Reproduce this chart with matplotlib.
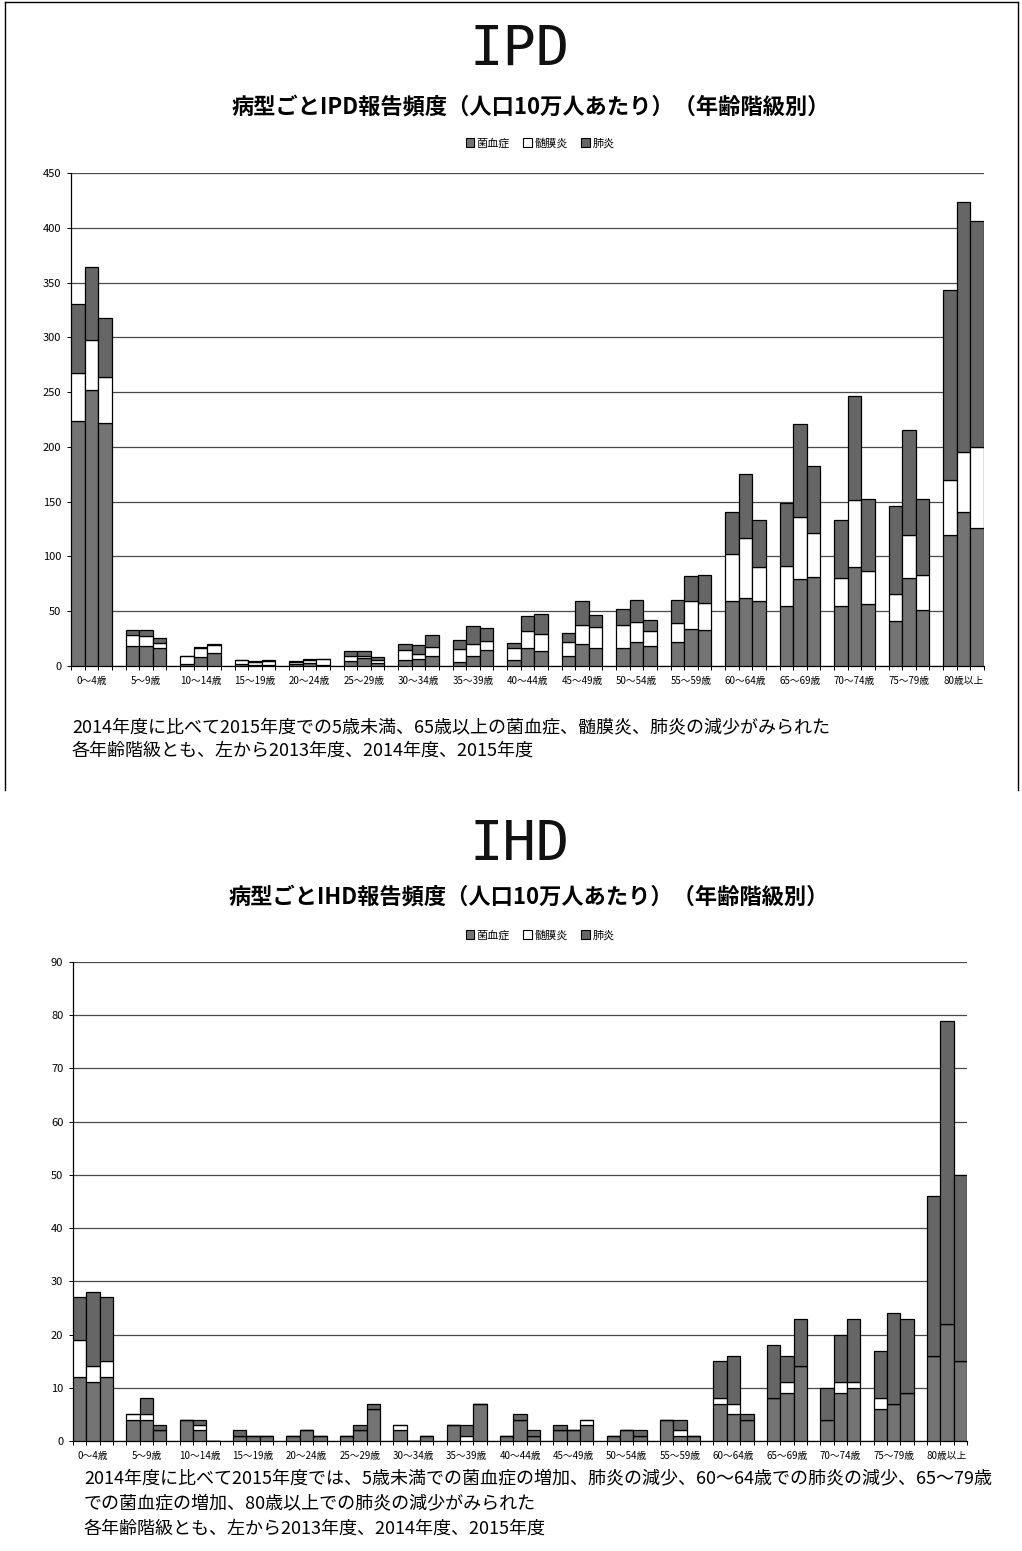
import numpy as np
import matplotlib
matplotlib.use("Agg")
import matplotlib.pyplot as plt
from matplotlib.patches import Patch
from matplotlib.lines import Line2D

plt.rcParams['font.family'] = ['Noto Sans CJK JP', 'DejaVu Sans']

# =============================
# Data
# =============================
age_groups = ["0～4歳", "5～9歳", "10～14歳", "15～19歳", "20～24歳", "25～29歳",
              "30～34歳", "35～39歳", "40～44歳", "45～49歳", "50～54歳", "55～59歳",
              "60～64歳", "65～69歳", "70～74歳", "75～79歳", "80歳以上"]
years = ["2013年度", "2014年度", "2015年度"]
disease_types = ["菌血症", "髄膜炎", "肺炎"]

# IPD, per 100k, segment values
ipd_bacteremia = [
    [224, 18.5, 2, 1.5, 2, 4.3, 5.2, 3.6, 5.8, 9.4, 16.7, 22.2, 59.3, 55.2, 54.6, 41, 119.4],
    [252, 18.5, 8.3, 1, 2.8, 7.1, 6.7, 8.8, 16.4, 20.4, 22.2, 34, 61.7, 79.3, 90.7, 80.2, 141],
    [222, 16, 12, 1, 1, 2.5, 8.8, 14.3, 13.4, 16.7, 18.2, 33, 59.3, 81.2, 56.2, 51.5, 125.6],
]
ipd_meningitis = [
    [43, 10.2, 7, 3.7, 2, 4.7, 9.7, 12.2, 10.9, 12.5, 21, 17.3, 43.2, 36.5, 25.4, 24.7, 50],
    [46, 8.5, 7.7, 2.7, 3.1, 2.2, 4.5, 11, 15.5, 17.3, 17.9, 25, 55.3, 57.1, 60.8, 39.8, 54.7],
    [42, 4.7, 7.4, 4, 5.2, 3.4, 8.5, 8.5, 15.5, 18.9, 13.7, 24.4, 31.4, 40.4, 30.5, 31.5, 74.1],
]
ipd_pneumonia = [
    [63, 4.3, 0.5, 0.7, 0.3, 4.9, 5.5, 8.2, 4.6, 8.5, 14.3, 21, 38.5, 56.8, 53, 80, 173.6],
    [66, 6, 1, 0.6, 0.6, 4.6, 7.6, 16.7, 14, 21.3, 20.4, 22.8, 58.6, 84.9, 94.5, 95, 228.1],
    [54, 5.3, 0.6, 0.2, 0.3, 2.4, 10.7, 12.2, 18.8, 10.6, 10.3, 25.3, 42.6, 60.8, 66.1, 69.8, 206.8],
]

# IHD, per 100k, segment values
ihd_bacteremia = [
    [12, 4, 4, 1, 1, 1, 2, 3, 1, 2, 1, 4, 7, 8, 4, 6, 16],
    [11, 4, 2, 1, 2, 2, 0, 0, 4, 2, 2, 1, 5, 9, 9, 7, 22],
    [12, 2, 0, 1, 1, 6, 1, 7, 1, 3, 1, 1, 4, 14, 10, 9, 15],
]
ihd_meningitis = [
    [7, 1, 0, 0, 0, 0, 1, 0, 0, 0, 0, 0, 1, 0, 0, 2, 0],
    [3, 1, 1, 0, 0, 0, 0, 1, 0, 0, 0, 1, 2, 2, 2, 0, 0],
    [3, 0, 0, 0, 0, 0, 0, 0, 0, 1, 0, 0, 0, 0, 1, 0, 0],
]
ihd_pneumonia = [
    [8, 0, 0, 1, 0, 0, 0, 0, 0, 1, 0, 0, 7, 10, 6, 9, 30],
    [14, 3, 1, 0, 0, 1, 0, 2, 1, 0, 0, 2, 9, 5, 9, 17, 57],
    [12, 1, 0, 0, 0, 1, 0, 0, 1, 0, 1, 0, 1, 9, 12, 14, 35],
]

ipd_note = ["2014年度に比べて2015年度での5歳未満、65歳以上の菌血症、髄膜炎、肺炎の減少がみられた",
            "各年齢階級とも、左から2013年度、2014年度、2015年度"]
ihd_note = ["2014年度に比べて2015年度では、5歳未満での菌血症の増加、肺炎の減少、60～64歳での肺炎の減少、65～79歳",
            "での菌血症の増加、80歳以上での肺炎の減少がみられた",
            "各年齢階級とも、左から2013年度、2014年度、2015年度"]

# =============================
# Layout helpers (pixel based)
# =============================
W, H = 1022, 1551
DPI = 100
COLORS = ["#747474", "#ffffff", "#666666"]


def fx(px):
    return px / W


def fy(py):
    return 1 - py / H


def add_axes_px(fig, left, top, right, bottom):
    return fig.add_axes([fx(left), fy(bottom), (right - left) / W, (bottom - top) / H])


def draw_panel(ax, bact, meni, pneu, ymax, ystep):
    n = len(age_groups)
    x = np.arange(n)
    offsets = [-0.25, 0.0, 0.25]
    for j, off in enumerate(offsets):
        bottom = np.zeros(n)
        for vals, color in zip([bact[j], meni[j], pneu[j]], COLORS):
            vals = np.asarray(vals, dtype=float)
            ax.bar(x + off, vals, width=0.25, bottom=bottom, color=color,
                   edgecolor="black", linewidth=0.9, zorder=3)
            bottom += vals

    ax.set_xlim(-0.375, n - 1 + 0.375)
    ax.set_ylim(0, ymax)
    ax.set_yticks(np.arange(0, ymax + 1, ystep))
    ax.set_xticks(x)
    ax.set_xticklabels(age_groups, fontsize=7)
    ax.set_xticks(np.arange(-0.375, n - 1 + 0.376, 0.25), minor=True)
    ax.tick_params(axis="x", which="major", length=0, pad=7)
    ax.tick_params(axis="x", which="minor", length=3, width=0.7, direction="out")
    ax.tick_params(axis="y", length=3, width=0.7, labelsize=8, pad=4)

    ax.yaxis.grid(True, color="#4a4a4a", linewidth=0.9)
    ax.set_axisbelow(True)
    for side in ["top", "right"]:
        ax.spines[side].set_visible(False)
    for side in ["left", "bottom"]:
        ax.spines[side].set_color("black")
        ax.spines[side].set_linewidth(0.9)


def add_legend(fig, y_px):
    handles = [Patch(facecolor=c, edgecolor="black", linewidth=0.8) for c in COLORS]
    fig.legend(handles, disease_types, loc="center", bbox_to_anchor=(fx(540), fy(y_px)),
               ncol=3, frameon=False, fontsize=8, handlelength=0.8, handleheight=0.8,
               handletextpad=0.2, columnspacing=1.2)


fig = plt.figure(figsize=(W / DPI, H / DPI), dpi=DPI)

# page border
for xs, ys in [([5, 5], [2, 790]), ([5, 1018], [2, 2]), ([1018, 1018], [2, 790])]:
    fig.add_artist(Line2D([fx(v) for v in xs], [fy(v) for v in ys],
                          transform=fig.transFigure, color="black", linewidth=1))

# ---------- IPD ----------
fig.text(fx(520), fy(50), "IPD", ha="center", va="center", fontsize=40,
         family="DejaVu Sans Mono", color="#111111")
fig.text(fx(531), fy(107), "病型ごとIPD報告頻度（人口10万人あたり）（年齢階級別）",
         ha="center", va="center", fontsize=16, fontweight="bold")
add_legend(fig, 143)
ax1 = add_axes_px(fig, 71, 173, 984, 666)
draw_panel(ax1, ipd_bacteremia, ipd_meningitis, ipd_pneumonia, 450, 50)
for i, line in enumerate(ipd_note):
    fig.text(fx(72), fy(728 + 23 * i), line, ha="left", va="center", fontsize=13)

# ---------- IHD ----------
fig.text(fx(520), fy(845), "IHD", ha="center", va="center", fontsize=40,
         family="DejaVu Sans Mono", color="#111111")
fig.text(fx(529), fy(897), "病型ごとIHD報告頻度（人口10万人あたり）（年齢階級別）",
         ha="center", va="center", fontsize=16, fontweight="bold")
add_legend(fig, 935)
ax2 = add_axes_px(fig, 73, 962, 967, 1441)
draw_panel(ax2, ihd_bacteremia, ihd_meningitis, ihd_pneumonia, 90, 10)
for i, line in enumerate(ihd_note):
    fig.text(fx(84), fy(1479 + 25 * i), line, ha="left", va="center", fontsize=13)

fig.savefig("out.png", dpi=DPI)
